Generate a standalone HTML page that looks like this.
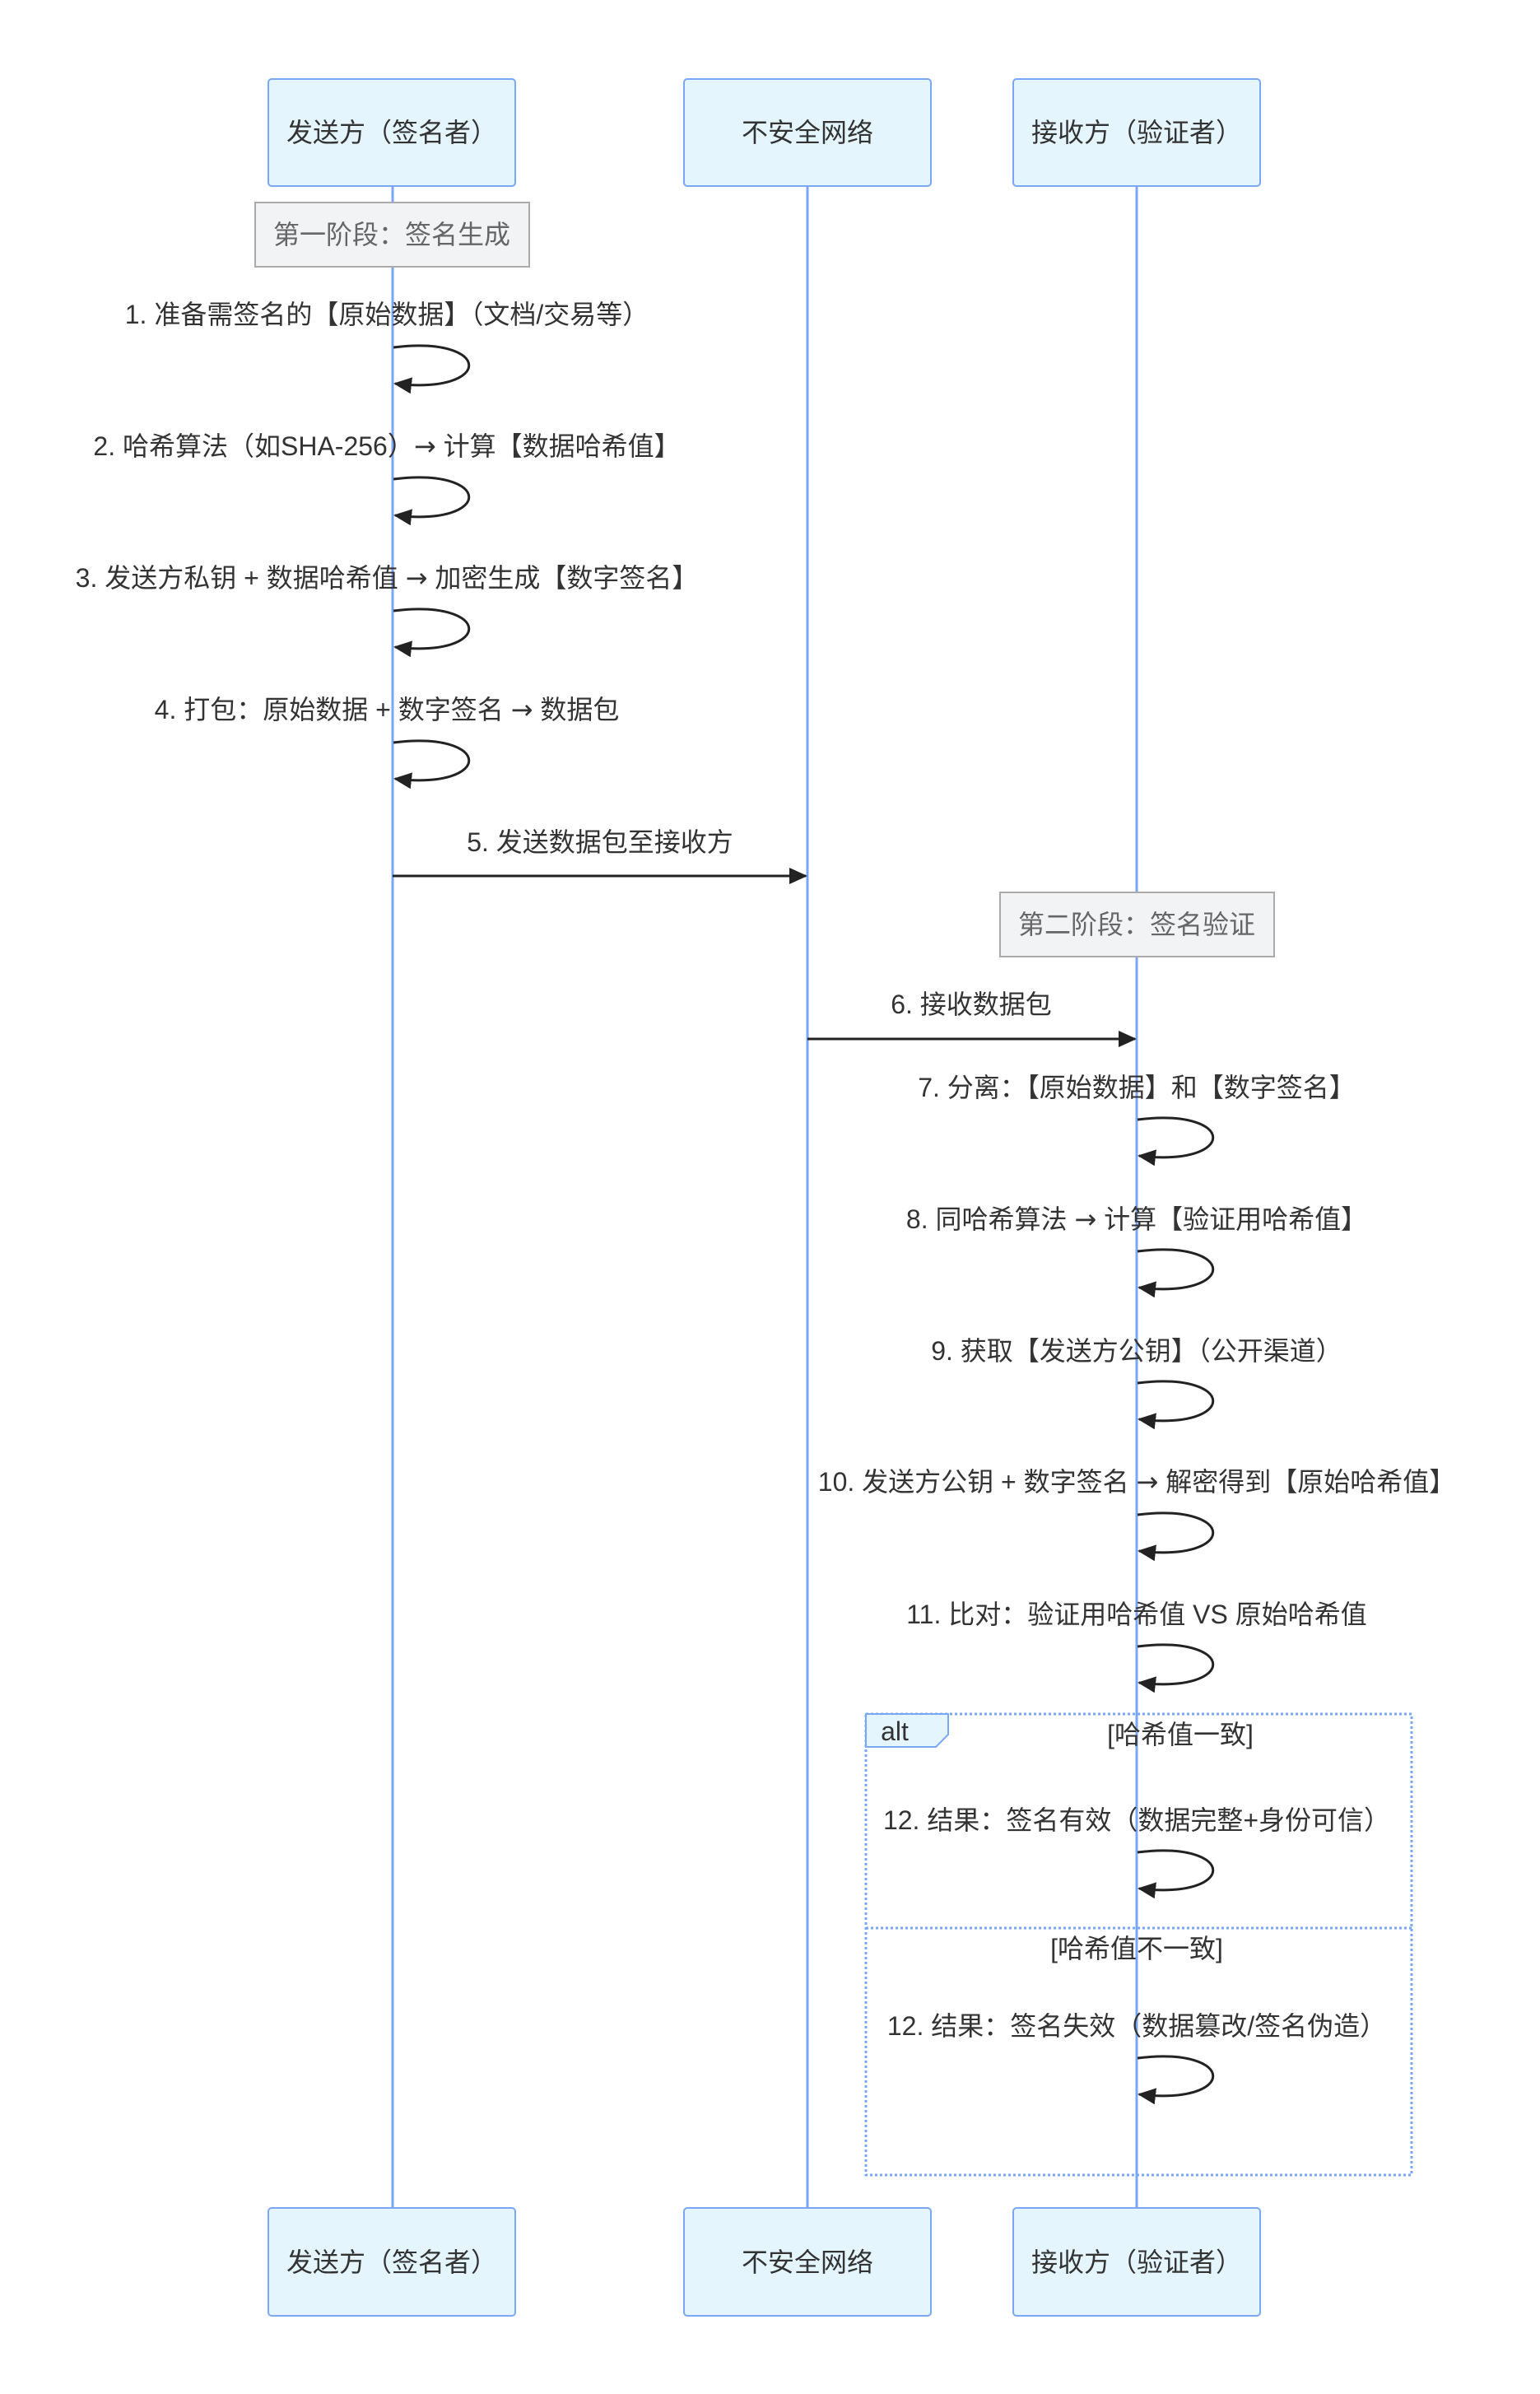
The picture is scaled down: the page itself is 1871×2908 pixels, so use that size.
<!DOCTYPE html>
<html><head><meta charset="utf-8"><style>
html,body{margin:0;padding:0;background:#fff}
svg{display:block}
text{font-family:"Liberation Sans","Noto Sans CJK SC",sans-serif;font-size:32px;fill:#333;dominant-baseline:central}
.ar{font-family:"DejaVu Sans",sans-serif}
</style></head><body>
<svg width="1871" height="2908" viewBox="0 0 1871 2908" xmlns="http://www.w3.org/2000/svg">
<defs>
<marker id="ah2" markerWidth="22" markerHeight="20" refX="20" refY="10" orient="auto" markerUnits="userSpaceOnUse" viewBox="0 0 22 20">
<path d="M0,0 L22,10 L0,20 z" fill="#222"/></marker>
</defs>
<g stroke="#7aa7f5" stroke-width="3">
<line x1="477" y1="226" x2="477" y2="2682"/>
<line x1="981" y1="226" x2="981" y2="2682"/>
<line x1="1381" y1="226" x2="1381" y2="2682"/>
</g>
<g fill="#e4f5fd" stroke="#7aa7f5" stroke-width="2">
<rect x="326" y="96" width="300" height="130" rx="4"/>
<rect x="831" y="96" width="300" height="130" rx="4"/>
<rect x="1231" y="96" width="300" height="130" rx="4"/>
<rect x="326" y="2682" width="300" height="131" rx="4"/>
<rect x="831" y="2682" width="300" height="131" rx="4"/>
<rect x="1231" y="2682" width="300" height="131" rx="4"/>
</g>
<g text-anchor="middle">
<text x="476" y="161">发送方（签名者）</text>
<text x="981" y="161">不安全网络</text>
<text x="1381" y="161">接收方（验证者）</text>
<text x="476" y="2748">发送方（签名者）</text>
<text x="981" y="2748">不安全网络</text>
<text x="1381" y="2748">接收方（验证者）</text>
</g>
<rect x="310" y="246" width="333" height="78" fill="#f2f3f5" stroke="#aaa" stroke-width="2"/>
<text x="476" y="285" text-anchor="middle" style="fill:#666">第一阶段：签名生成</text>
<rect x="1215" y="1084" width="333" height="78" fill="#f2f3f5" stroke="#aaa" stroke-width="2"/>
<text x="1381" y="1123" text-anchor="middle" style="fill:#666">第二阶段：签名验证</text>
<g fill="none" stroke="#222" stroke-width="3">
<path d="M478,422 C600,407 600,480 480,466" marker-end="url(#ah2)"/>
<path d="M478,582 C600,567 600,640 480,626" marker-end="url(#ah2)"/>
<path d="M478,742 C600,727 600,800 480,786" marker-end="url(#ah2)"/>
<path d="M478,902 C600,887 600,960 480,946" marker-end="url(#ah2)"/>
<line x1="477" y1="1064" x2="979" y2="1064" marker-end="url(#ah2)"/>
<line x1="981" y1="1262" x2="1379" y2="1262" marker-end="url(#ah2)"/>
<path d="M1382,1360 C1504,1345 1504,1418 1384,1404" marker-end="url(#ah2)"/>
<path d="M1382,1520 C1504,1505 1504,1578 1384,1564" marker-end="url(#ah2)"/>
<path d="M1382,1680 C1504,1665 1504,1738 1384,1724" marker-end="url(#ah2)"/>
<path d="M1382,1840 C1504,1825 1504,1898 1384,1884" marker-end="url(#ah2)"/>
<path d="M1382,2000 C1504,1985 1504,2058 1384,2044" marker-end="url(#ah2)"/>
<path d="M1382,2250 C1504,2235 1504,2308 1384,2294" marker-end="url(#ah2)"/>
<path d="M1382,2500 C1504,2485 1504,2558 1384,2544" marker-end="url(#ah2)"/>
</g>
<g text-anchor="middle">
<text x="470" y="382">1. 准备需签名的【原始数据】（文档/交易等）</text>
<text x="470" y="542">2. 哈希算法（如SHA-256）<tspan class="ar">→</tspan> 计算【数据哈希值】</text>
<text x="470" y="702">3. 发送方私钥 + 数据哈希值 <tspan class="ar">→</tspan> 加密生成【数字签名】</text>
<text x="470" y="862">4. 打包：原始数据 + 数字签名 <tspan class="ar">→</tspan> 数据包</text>
<text x="729" y="1023">5. 发送数据包至接收方</text>
<text x="1180" y="1220">6. 接收数据包</text>
<text x="1381" y="1321">7. 分离：【原始数据】和【数字签名】</text>
<text x="1381" y="1481">8. 同哈希算法 <tspan class="ar">→</tspan> 计算【验证用哈希值】</text>
<text x="1381" y="1641">9. 获取【发送方公钥】（公开渠道）</text>
<text x="1381" y="1800">10. 发送方公钥 + 数字签名 <tspan class="ar">→</tspan> 解密得到【原始哈希值】</text>
<text x="1381" y="1961">11. 比对：验证用哈希值 VS 原始哈希值</text>
<text x="1381" y="2211">12. 结果：签名有效（数据完整+身份可信）</text>
<text x="1381" y="2461">12. 结果：签名失效（数据篡改/签名伪造）</text>
<text x="1434" y="2107">[哈希值一致]</text>
<text x="1381" y="2367">[哈希值不一致]</text>
</g>
<g fill="none" stroke="#7aa7f5" stroke-width="3" stroke-dasharray="3,3">
<rect x="1052" y="2082" width="663" height="560"/>
<line x1="1052" y1="2342" x2="1715" y2="2342"/>
</g>
<path d="M1052,2082 L1152,2082 L1152,2107 L1137,2122 L1052,2122 z" fill="#e4f5fd" stroke="#7aa7f5" stroke-width="2"/>
<text x="1087" y="2103" text-anchor="middle">alt</text>
</svg>
</body></html>
